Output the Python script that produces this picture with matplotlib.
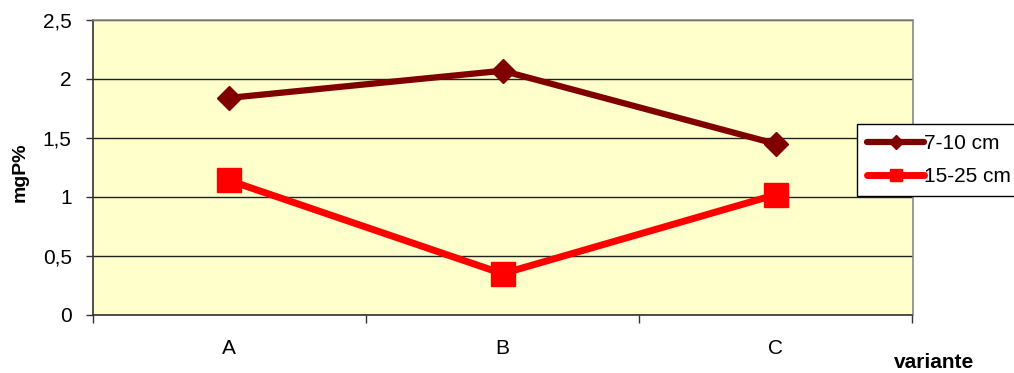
import matplotlib

matplotlib.use("Agg")
import matplotlib.pyplot as plt
from matplotlib.ticker import FixedLocator, FuncFormatter

# mgP% by variant, two sampling depths
variants = ["A", "B", "C"]
depth_7_10 = [1.84, 2.07, 1.45]
depth_15_25 = [1.14, 0.35, 1.02]

W, H = 1014, 373
FS = 15
plt.rcParams.update({
    "font.family": ["Liberation Sans", "DejaVu Sans"],
    "font.size": FS,
})

fig = plt.figure(figsize=(W / 100, H / 100), dpi=100)
ax = fig.add_axes([92.5 / W, 1 - 315 / H, 820 / W, 295 / H])
ax.set_facecolor("#FFFFCC")

x = list(range(len(variants)))
ax.plot(x, depth_7_10, color="#800000", linewidth=4.5, marker="D",
        markersize=12.5, label="7-10 cm", solid_capstyle="round", zorder=3)
ax.plot(x, depth_15_25, color="#FF0000", linewidth=5, marker="s",
        markersize=17, label="15-25 cm", solid_capstyle="round", zorder=3)

ax.set_xlim(-0.5, len(variants) - 0.5)
ax.set_ylim(0, 2.5)
ax.set_yticks([0, 0.5, 1, 1.5, 2, 2.5])
ax.yaxis.set_major_formatter(FuncFormatter(lambda v, _: f"{v:g}".replace(".", ",")))
ax.yaxis.grid(True, color="#222222", linewidth=1.0)
ax.set_axisbelow(True)

ax.set_xticks(x)
ax.set_xticklabels(variants)
ax.xaxis.set_minor_locator(FixedLocator([i - 0.5 for i in range(len(variants) + 1)]))
ax.tick_params(axis="x", which="major", length=0, pad=17, labelsize=FS)
ax.tick_params(axis="x", which="minor", length=6, width=1, color="#333333")
ax.tick_params(axis="y", which="major", length=5, width=1, color="#333333",
               pad=10, labelsize=FS)

for side in ("top", "right"):
    ax.spines[side].set_color("#888888")
    ax.spines[side].set_linewidth(1.2)
for side in ("left", "bottom"):
    ax.spines[side].set_color("#333333")
    ax.spines[side].set_linewidth(1.2)

fig.text(20 / W, 1 - 172 / H, "mgP%", rotation=90, ha="center", va="center",
         fontweight="bold", fontsize=14)
fig.text(934 / W, 1 - 363 / H, "variante", ha="center", va="center",
         fontweight="bold", fontsize=FS)

leg = fig.legend(loc="upper left", bbox_to_anchor=(857 / W, 1 - 124 / H),
                 frameon=True, fancybox=False, framealpha=1, edgecolor="black",
                 markerscale=0.55, handlelength=2.7, handletextpad=0.0,
                 borderpad=0.5, labelspacing=0.65, borderaxespad=0,
                 fontsize=FS)
leg.get_frame().set_linewidth(1.0)

fig.savefig("out.png", dpi=100)
